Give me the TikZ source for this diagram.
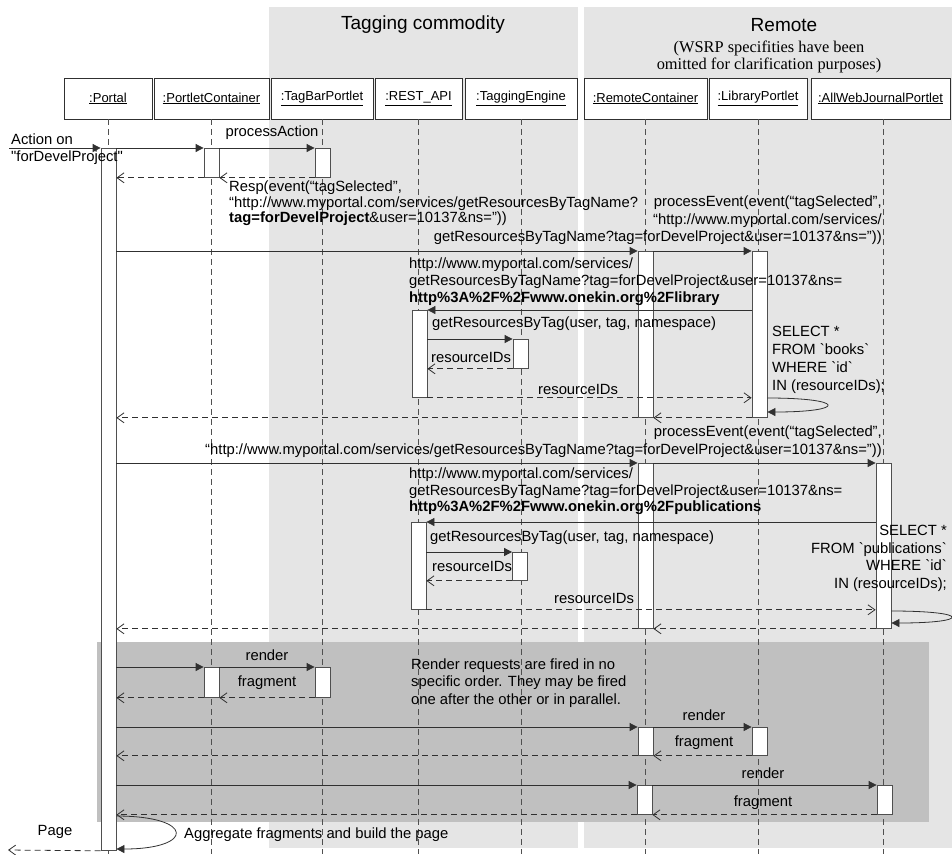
\documentclass[tikz,border=0pt]{standalone}
\usepackage{fontspec}
\newfontfamily\lsans{Liberation Sans}
\newfontfamily\lserif{Liberation Serif}
\usetikzlibrary{arrows.meta}
\definecolor{zoneA}{HTML}{E5E5E5}
\definecolor{zoneB}{HTML}{C0C0C0}
\definecolor{ink}{HTML}{303030}
\definecolor{life}{HTML}{505050}
% body text size and a helper for explicit line spacing
\newcommand\bodysize[1]{\lsans\fontsize{14.8}{#1}\selectfont}
\begin{document}
\begin{tikzpicture}[x=1pt,y=-1pt,
  every node/.style={font=\bodysize{17}, inner sep=0pt, text=black},
  obj/.style={draw=ink, fill=white, minimum height=41pt, inner sep=0pt,
    font=\lsans\fontsize{13}{15}\selectfont, line width=0.8pt},
  lifeline/.style={draw=life, line width=0.8pt, dash pattern=on 6pt off 4pt},
  bar/.style={draw=ink!85, fill=white, minimum width=15pt, anchor=north, line width=0.8pt},
  call/.style={draw=ink, line width=0.8pt, -{Triangle[length=8pt,width=8pt]}},
  reply/.style={draw=ink, line width=0.8pt, dash pattern=on 6pt off 4pt,
    -{Straight Barb[length=7pt,width=10pt]}},
  lbl/.style={anchor=west, align=left},
  rlbl/.style={anchor=east, align=right},
  title/.style={font=\lsans\fontsize{19}{22}\selectfont},
]
\useasboundingbox (0,0) rectangle (952,854);

% zones
\fill[zoneA] (269,7) rectangle (578,848);
\fill[zoneA] (584,7) rectangle (952,848);
\fill[zoneB] (97,642) rectangle (929,822);

% zone titles
\node[title] (tTag) at (423,25) {Tagging commodity};
\node[title] (tRemote) at (784,25) {Remote};
\node[font=\lserif\fontsize{16.4}{17}\selectfont, align=center] (tWsrp) at (769,56.5)
  {(WSRP specifities have been\\omitted for clarification purposes)};

% participants
\node[obj, minimum width=88pt]  (hP)  at (108,98.5)   {\underline{:Portal}};
\node[obj, minimum width=115pt] (hPC) at (211.5,98.5) {\underline{:PortletContainer}};
\node[obj, minimum width=102pt] (hTB) at (322,98.5)   {\underline{:TagBarPortlet}};
\node[obj, minimum width=87pt]  (hRA) at (418.5,98.5) {\underline{:REST\_API}};
\node[obj, minimum width=112pt] (hTE) at (521,98.5)   {\underline{:TaggingEngine}};
\node[obj, minimum width=123pt] (hRC) at (645.5,98.5) {\underline{:RemoteContainer}};
\node[obj, minimum width=98pt]  (hLP) at (758,98.5)   {\underline{:LibraryPortlet}};
\node[obj, minimum width=139pt] (hAW) at (880.5,98.5) {\underline{:AllWebJournalPortlet}};

% lifelines
\coordinate (bot) at (0,854);
\foreach \h in {hP,hPC,hTB,hRA,hTE,hRC,hLP}
  \draw[lifeline] (\h.south) -- (\h.south |- bot);
\coordinate (awTop) at (883,119);
\draw[lifeline] (awTop) -- (awTop |- bot);

% activation bars
\node[bar, minimum height=702pt] (pbar) at (108.5,148) {};
\node[bar, minimum height=29pt]  (pc1)  at (211.5,148) {};
\node[bar, minimum height=29pt]  (tb1)  at (322.5,148) {};
\node[bar, minimum height=166pt] (rc1)  at (645.5,251) {};
\node[bar, minimum height=166pt] (lp1)  at (759.5,251) {};
\node[bar, minimum height=87pt]  (ra1)  at (419.5,310) {};
\node[bar, minimum height=29pt]  (te1)  at (520.5,339) {};
\node[bar, minimum height=165pt] (rc2)  at (645.5,463) {};
\node[bar, minimum height=165pt] (aw1)  at (883.5,463) {};
\node[bar, minimum height=87pt]  (ra2)  at (418.5,522) {};
\node[bar, minimum height=28pt]  (te2)  at (520,552) {};
\node[bar, minimum height=30pt]  (pc2)  at (211.5,667) {};
\node[bar, minimum height=30pt]  (tb2)  at (322.5,667) {};
\node[bar, minimum height=28pt]  (rc3)  at (645.5,727) {};
\node[bar, minimum height=28pt]  (lp2)  at (759.5,727) {};
\node[bar, minimum height=29pt]  (rc4)  at (644.5,785) {};
\node[bar, minimum height=29pt]  (aw2)  at (884.5,785) {};

% user action
\coordinate (actStart) at (9,148);
\draw[call] (actStart) -- (pbar.north west);
\node[lbl] (tAction) at (11,149.5) {Action on\\"forDevelProject"};

% processAction
\draw[call] (pbar.north east) -- (pc1.north west);
\draw[call] (pc1.north east) -- (tb1.north west);
\node (tProcAction) at (272,133) {processAction};
\draw[reply] (tb1.south west) -- (pc1.south east);
\draw[reply] (pc1.south west) -- (pc1.south west -| pbar.east);
\node[lbl, font=\bodysize{15.5}] (tResp) at (229,203.5)
  {Resp(event(“tagSelected”,\\
   “http://www.myportal.com/services/getResourcesByTagName?\\
   \textbf{tag=forDevelProject}\&user=10137\&ns=”))};

% processEvent towards the library portlet
\node[rlbl, font=\bodysize{17.5}] (tEvent1) at (882,220.5)
  {processEvent(event(“tagSelected”,\\
   “http://www.myportal.com/services/\\
   getResourcesByTagName?tag=forDevelProject\&user=10137\&ns=”))};
\draw[call] (rc1.north west -| pbar.east) -- (rc1.north west);
\draw[call] (rc1.north east) -- (lp1.north west);
\node[lbl] (tUrl1) at (409,282)
  {http://www.myportal.com/services/\\
   getResourcesByTagName?tag=forDevelProject\&user=10137\&ns=\\
   \textbf{http\%3A\%2F\%2Fwww.onekin.org\%2Flibrary}};
\draw[call] (ra1.north east -| lp1.west) -- (ra1.north east);
\node[lbl] (tGet1) at (432,324) {getResourcesByTag(user, tag, namespace)};
\draw[call] (te1.north west -| ra1.east) -- (te1.north west);
\node[lbl] (tIds1) at (431,357) {resourceIDs};
\draw[reply] (te1.south west) -- (te1.south west -| ra1.east);
\node[lbl] (tIds2) at (538,389) {resourceIDs};
\draw[reply] (ra1.south east) -- (ra1.south east -| lp1.west);
\node[lbl, font=\bodysize{18}] (tSql1) at (772,360)
  {SELECT *\\FROM `books`\\WHERE `id`\\IN (resourceIDs);};
\draw[call] (lp1.east |- 0,398) .. controls (847,398) and (847,412) .. (lp1.east |- 0,412);
\draw[reply] (lp1.south west) -- (rc1.south east);
\draw[reply] (rc1.south west) -- (rc1.south west -| pbar.east);

% processEvent towards the journal portlet
\node[rlbl, font=\bodysize{18}] (tEvent2) at (882,442)
  {processEvent(event(“tagSelected”,\\
   “http://www.myportal.com/services/getResourcesByTagName?tag=forDevelProject\&user=10137\&ns=”))};
\draw[call] (rc2.north west -| pbar.east) -- (rc2.north west);
\draw[call] (rc2.north east) -- (aw1.north west);
\node[lbl, font=\bodysize{16.5}] (tUrl2) at (409,491.5)
  {http://www.myportal.com/services/\\
   getResourcesByTagName?tag=forDevelProject\&user=10137\&ns=\\
   \textbf{http\%3A\%2F\%2Fwww.onekin.org\%2Fpublications}};
\draw[call] (ra2.north east -| aw1.west) -- (ra2.north east);
\node[lbl] (tGet2) at (430,538) {getResourcesByTag(user, tag, namespace)};
\draw[call] (te2.north west -| ra2.east) -- (te2.north west);
\node[lbl] (tIds3) at (432,566) {resourceIDs};
\draw[reply] (te2.south west) -- (te2.south west -| ra2.east);
\node[lbl] (tIds4) at (554,598) {resourceIDs};
\draw[reply] (ra2.south east) -- (ra2.south east -| aw1.west);
\node[rlbl, font=\bodysize{17.7}] (tSql2) at (947,558.5)
  {SELECT *\\FROM `publications`\\WHERE `id`\\IN (resourceIDs);};
\draw[call] (aw1.east |- 0,611) .. controls (971,611) and (971,623) .. (aw1.east |- 0,623);
\draw[reply] (aw1.south west) -- (rc2.south east);
\draw[reply] (rc2.south west) -- (rc2.south west -| pbar.east);

% rendering
\node[lbl, font=\bodysize{17.5}] (tNote) at (411,683)
  {Render requests are fired in no\\
   specific order. They may be fired\\
   one after the other or in parallel.};
\draw[call] (pc2.north west -| pbar.east) -- (pc2.north west);
\draw[call] (pc2.north east) -- (tb2.north west);
\node (tRender1) at (267,655) {render};
\node (tFrag1) at (267,683) {fragment};
\draw[reply] (tb2.south west) -- (pc2.south east);
\draw[reply] (pc2.south west) -- (pc2.south west -| pbar.east);

\draw[call] (rc3.north west -| pbar.east) -- (rc3.north west);
\draw[call] (rc3.north east) -- (lp2.north west);
\node (tRender2) at (704,715) {render};
\node (tFrag2) at (704,743) {fragment};
\draw[reply] (lp2.south west) -- (rc3.south east);
\draw[reply] (rc3.south west) -- (rc3.south west -| pbar.east);

\draw[call] (rc4.north west -| pbar.east) -- (rc4.north west);
\draw[call] (rc4.north east) -- (aw2.north west);
\node (tRender3) at (763,773) {render};
\node (tFrag3) at (763,803) {fragment};
\draw[reply] (aw2.south west) -- (rc4.south east);
\draw[reply] (rc4.south west) -- (rc4.south west -| pbar.east);

% page assembly
\draw[call] (pbar.east |- 0,816) .. controls (195,816) and (195,849) .. (pbar.east |- 0,849);
\node[lbl] (tAggr) at (184,835) {Aggregate fragments and build the page};
\coordinate (pageEnd) at (8,850);
\draw[reply] (pbar.south west) -- (pageEnd);
\node (tPage) at (55,832) {Page};
\end{tikzpicture}
\end{document}
